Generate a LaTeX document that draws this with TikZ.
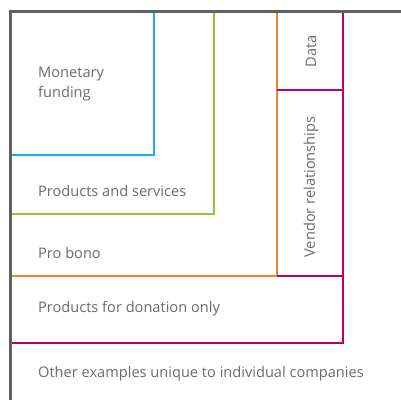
\documentclass[tikz,border=0pt]{standalone}
\usepackage{fontspec}
\setmainfont{Open Sans}
\begin{document}
\begin{tikzpicture}[x=1pt,y=-1pt,
  lab/.style={anchor=west,text=TextGrey,font=\fontsize{14.6}{20}\selectfont,inner sep=0pt},
  vlab/.style={rotate=90,text=TextGrey,font=\fontsize{14.6}{20}\selectfont,inner sep=0pt}]

%Colors
\colorlet{FrameGrey}{black!62}
\colorlet{TextGrey}{black!58}
\definecolor{MoneyBlue}{HTML}{1AAEE8}
\definecolor{ProdGreen}{HTML}{8CC63F}
\definecolor{BonoOrange}{HTML}{F5822A}
\definecolor{DonMagenta}{HTML}{B8006E}

\useasboundingbox [fill=white] (0,0) rectangle (401,400);

%Monetary funding
\draw [line width=2pt,MoneyBlue] (154,11) -- (154,155) -- (10,155);
%Products and services
\draw [line width=2pt,ProdGreen] (214,11) -- (214,214) -- (10,214);
%Pro bono
\draw [line width=2pt,BonoOrange] (277,11) -- (277,276) -- (10,276);
%Products for donation, data, vendors
\draw [line width=2pt,DonMagenta] (343,11) -- (343,343) -- (10,343);
\draw [line width=2pt,DonMagenta] (277,90) -- (343,90);
\draw [line width=2pt,DonMagenta] (277,276) -- (343,276);

%frame
\draw [line width=3pt,FrameGrey] (401,11) -- (10,11) -- (10,400);

%labels
\node[lab,align=left] (money) at (38,84) {Monetary\\funding};
\node[lab] (prod) at (38,191) {Products and services};
\node[lab] (bono) at (38,253) {Pro bono};
\node[lab] (don) at (38,309) {Products for donation only};
\node[lab] (other) at (38,374) {Other examples unique to individual companies};
\node[vlab] (data) at (311,51) {Data};
\node[vlab] (vendor) at (311,187) {Vendor relationships};

\end{tikzpicture}
\end{document}
